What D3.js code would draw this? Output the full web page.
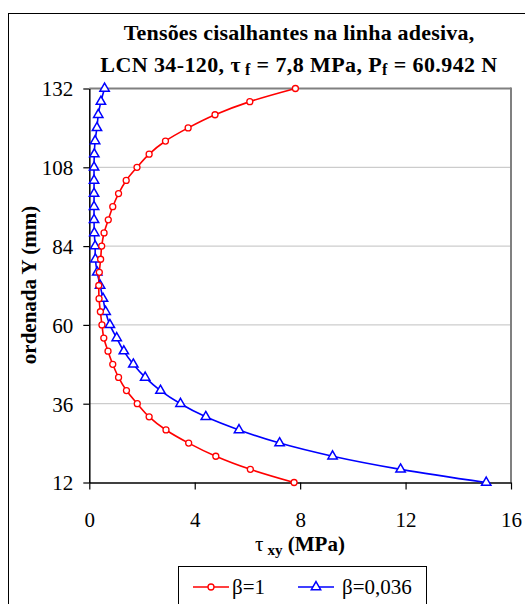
<!DOCTYPE html>
<html>
<head>
<meta charset="utf-8">
<script src="https://cdn.jsdelivr.net/npm/d3@7"></script>
<style>
  html, body { margin: 0; padding: 0; background: #fff; }
  svg { display: block; }
</style>
</head>
<body>
<svg id="chart" width="525" height="604"></svg>
<script>
// ---- data (ordinate Y in mm, shear stress in MPa) ----
const ordinateY = [12,16,20,24,28,32,36,40,44,48,52,56,60,64,68,72,76,80,84,88,92,96,100,104,108,112,116,120,124,128,132];
const tauBeta1 = [7.77,6.11,4.80,3.77,2.91,2.27,1.82,1.41,1.11,0.89,0.71,0.55,0.48,0.42,0.37,0.36,0.38,0.43,0.47,0.56,0.72,0.89,1.11,1.40,1.81,2.27,2.89,3.75,4.77,6.09,7.82];
const tauBeta0036 = [15.06,11.81,9.23,7.22,5.68,4.42,3.46,2.70,2.12,1.67,1.31,1.04,0.78,0.62,0.52,0.41,0.30,0.23,0.22,0.19,0.18,0.18,0.18,0.18,0.18,0.19,0.22,0.29,0.34,0.44,0.58];
const xTicks = [0,4,8,12,16];
const yTicks = [12,36,60,84,108,132];
const seriesNames = ["β=1", "β=0,036"];

const FONT = "'Liberation Serif', 'Times New Roman', Times, 'DejaVu Serif', serif";

const svg = d3.select("#chart").attr("font-family", FONT);
const plot = {left: 89.3, right: 511, top: 88.5, bottom: 482.5};

const x = d3.scaleLinear().domain([0,16]).range([plot.left, plot.right]);
const y = d3.scaleLinear().domain([12,132]).range([plot.bottom, plot.top]);

// outer chart frame
svg.append("rect").attr("x", 8.5).attr("y", 13.5).attr("width", 540).attr("height", 620)
  .attr("fill", "#fff").attr("stroke", "#000").attr("stroke-width", 1);

// gridlines
svg.append("g").selectAll("line").data(yTicks.filter(d => d > 12 && d < 132)).join("line")
  .attr("x1", plot.left).attr("x2", plot.right)
  .attr("y1", d => y(d)).attr("y2", d => y(d))
  .attr("stroke", "#c0c0c0").attr("stroke-width", 1);

// plot border (top & right grey)
svg.append("line").attr("x1", plot.left).attr("x2", plot.right).attr("y1", y(132)).attr("y2", y(132))
  .attr("stroke", "#808080").attr("stroke-width", 2);
svg.append("line").attr("x1", plot.right).attr("x2", plot.right).attr("y1", plot.top - 1).attr("y2", plot.bottom)
  .attr("stroke", "#808080").attr("stroke-width", 2);

// axes
const gx = svg.append("g").attr("transform", `translate(0,${plot.bottom})`)
  .call(d3.axisBottom(x).tickValues(xTicks).tickSize(7).tickSizeOuter(0).tickFormat(d3.format("d")));
gx.attr("font-family", FONT);
gx.select(".domain").attr("stroke", "#000").attr("stroke-width", 1.5);
gx.selectAll(".tick line").attr("stroke", "#000").attr("stroke-width", 1.2);
gx.selectAll(".tick text").attr("y", 44).attr("dy", 0).attr("font-size", 21)
  .style("font-family", FONT).attr("fill", "#000");

const gy = svg.append("g").attr("transform", `translate(${plot.left},0)`)
  .call(d3.axisLeft(y).tickValues(yTicks).tickSize(6).tickSizeOuter(0).tickFormat(d3.format("d")));
gy.attr("font-family", FONT);
gy.select(".domain").attr("stroke", "#000").attr("stroke-width", 1.5);
gy.selectAll(".tick line").attr("stroke", "#000").attr("stroke-width", 1.2);
gy.selectAll(".tick text").attr("x", -16).attr("dy", "0.35em").attr("font-size", 21)
  .style("font-family", FONT).attr("fill", "#000");

// lines
const line = d3.line().curve(d3.curveCatmullRom.alpha(0.5));
const s1 = ordinateY.map((v,i) => [x(tauBeta1[i]), y(v)]);
const s2 = ordinateY.map((v,i) => [x(tauBeta0036[i]), y(v)]);

svg.append("path").attr("d", line(s2)).attr("fill", "none").attr("stroke", "#0000ff").attr("stroke-width", 1.6);
svg.append("path").attr("d", line(s1)).attr("fill", "none").attr("stroke", "#ff0000").attr("stroke-width", 1.6);

const tri = d3.symbol().type(d3.symbolTriangle).size(38);
svg.append("g").selectAll("path").data(s2).join("path")
  .attr("d", tri).attr("transform", d => `translate(${d[0]},${d[1]})`)
  .attr("fill", "#fff").attr("stroke", "#0000ff").attr("stroke-width", 1.5);
svg.append("g").selectAll("circle").data(s1).join("circle")
  .attr("cx", d => d[0]).attr("cy", d => d[1]).attr("r", 3)
  .attr("fill", "#fff").attr("stroke", "#ff0000").attr("stroke-width", 1.3);

// title
svg.append("text").attr("text-anchor", "middle").attr("font-weight", "bold").attr("font-size", 22).attr("fill", "#000")
  .attr("x", 299).attr("y", 40).style("font-family", FONT).style("letter-spacing", "0.2px")
  .text("Tensões cisalhantes na linha adesiva,");
const t2 = svg.append("text").attr("text-anchor", "middle").attr("font-weight", "bold").attr("font-size", 22).attr("fill", "#000")
  .attr("x", 299).attr("y", 72).style("font-family", FONT).style("letter-spacing", "0.4px");
t2.append("tspan").text("LCN 34-120, τ");
t2.append("tspan").attr("font-size", 16).attr("dx", 4).attr("dy", 3).text("f");
t2.append("tspan").attr("dy", -3).text(" = 7,8 MPa, P");
t2.append("tspan").attr("font-size", 16).attr("dy", 3).text("f");
t2.append("tspan").attr("dy", -3).text(" = 60.942 N");

// x axis title
const xt = svg.append("text").attr("text-anchor", "middle").attr("x", 300).attr("y", 551).attr("font-size", 21).attr("fill", "#000")
  .style("font-family", FONT);
xt.append("tspan").text("τ");
xt.append("tspan").attr("font-size", 15).attr("font-weight", "bold").attr("dx", 4).attr("dy", 4).text("xy");
xt.append("tspan").attr("font-weight", "bold").attr("dy", -4).text(" (MPa)");

// y axis title
svg.append("text").attr("text-anchor", "middle").attr("font-weight", "bold").attr("font-size", 21).attr("fill", "#000")
  .style("font-family", FONT)
  .attr("transform", "translate(36,285) rotate(-90)").text("ordenada Y (mm)");

// legend
const lg = svg.append("g");
lg.append("rect").attr("x", 178.5).attr("y", 566.5).attr("width", 248).attr("height", 60)
  .attr("fill", "#fff").attr("stroke", "#000").attr("stroke-width", 1);
lg.append("line").attr("x1", 193).attr("x2", 229).attr("y1", 587).attr("y2", 587).attr("stroke", "#ff0000").attr("stroke-width", 1.6);
lg.append("circle").attr("cx", 211).attr("cy", 587).attr("r", 3).attr("fill", "#fff").attr("stroke", "#ff0000").attr("stroke-width", 1.3);
lg.append("text").attr("x", 232).attr("y", 594).attr("font-size", 21).attr("fill", "#000").style("font-family", FONT).text(seriesNames[0]);
lg.append("line").attr("x1", 298).attr("x2", 334).attr("y1", 587).attr("y2", 587).attr("stroke", "#0000ff").attr("stroke-width", 1.6);
lg.append("path").attr("d", tri).attr("transform", "translate(316,587)").attr("fill", "#fff").attr("stroke", "#0000ff").attr("stroke-width", 1.5);
lg.append("text").attr("x", 342).attr("y", 594).attr("font-size", 21).attr("fill", "#000").style("font-family", FONT).text(seriesNames[1]);
</script>
</body>
</html>
